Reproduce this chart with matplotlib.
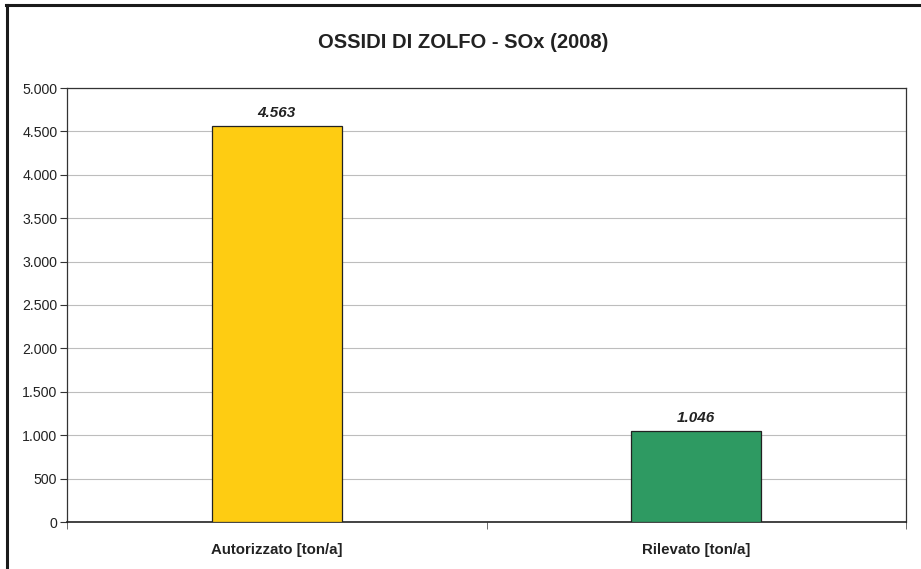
import matplotlib
matplotlib.use("Agg")
import matplotlib.pyplot as plt
from matplotlib.lines import Line2D
from matplotlib.ticker import FuncFormatter, FixedLocator

plt.rcParams["font.family"] = ["Liberation Sans", "DejaVu Sans"]

categories = ["Autorizzato [ton/a]", "Rilevato [ton/a]"]
values = [4563, 1046]
colors = ["#FECC12", "#2E9A62"]
title = "OSSIDI DI ZOLFO - SOx (2008)"


def it_thousands(v, pos=None):
    return f"{int(round(v)):,}".replace(",", ".")


fig = plt.figure(figsize=(9.21, 5.69), dpi=100)
ax = fig.add_axes([67 / 921, 1 - 522 / 569, (906 - 67) / 921, (522 - 88) / 569])

x = range(len(categories))
ax.bar(x, values, width=0.31, color=colors, edgecolor="#222222", linewidth=0.9, zorder=3)

for xi, v in zip(x, values):
    ax.annotate(it_thousands(v), (xi, v), xytext=(0, 4.5), textcoords="offset points",
                ha="center", va="bottom", fontsize=11, fontweight="bold", style="italic",
                color="#222222")

ax.set_xlim(-0.5, len(categories) - 0.5)
ax.set_ylim(0, 5000)
ax.yaxis.set_major_locator(FixedLocator(range(0, 5001, 500)))
ax.yaxis.set_major_formatter(FuncFormatter(it_thousands))
ax.set_xticks(list(x))
ax.set_xticklabels(categories, fontsize=10.8, fontweight="bold", color="#222222")
ax.set_xticks([-0.5 + i for i in range(len(categories) + 1)], minor=True)
ax.tick_params(axis="x", which="major", length=0, pad=15)
ax.tick_params(axis="x", which="minor", length=5, direction="out", color="#555555")
ax.tick_params(axis="y", length=5, direction="out", labelsize=10.2, color="#333333",
               labelcolor="#222222", pad=2)

ax.grid(axis="y", color="#bdbdbd", linewidth=0.8, zorder=0)
for side in ["left", "right", "top"]:
    ax.spines[side].set_color("#333333")
    ax.spines[side].set_linewidth(0.9)
ax.spines["bottom"].set_color("#222222")
ax.spines["bottom"].set_linewidth(1.2)

fig.text(463 / 921, 1 - 43 / 569, title, ha="center", va="center",
         fontsize=14.5, fontweight="bold", color="#222222")

# outer chart border (only top and left visible)
fig.add_artist(Line2D([6.5 / 921, 6.5 / 921], [0, 1 - 4.5 / 569], transform=fig.transFigure,
                      color="#1a1a1a", linewidth=2.2))
fig.add_artist(Line2D([5.5 / 921, 1], [1 - 4.5 / 569, 1 - 4.5 / 569], transform=fig.transFigure,
                      color="#1a1a1a", linewidth=2.2))

fig.savefig("out.png", dpi=100)
